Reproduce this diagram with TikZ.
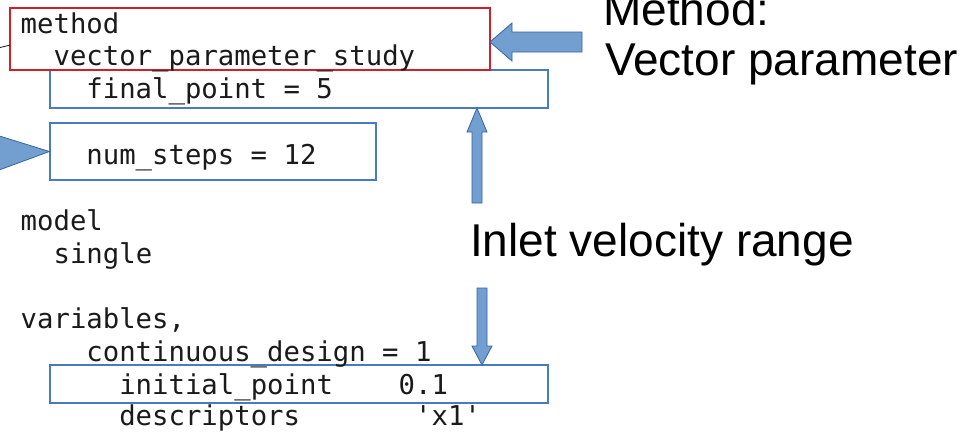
\documentclass[tikz,border=0pt]{standalone}
\usepackage{fontspec}
\setmainfont{Liberation Sans}
\setmonofont{DejaVu Sans Mono}
\definecolor{arrowfill}{HTML}{729FCF}
\definecolor{arrowline}{HTML}{3465A4}
\definecolor{boxblue}{HTML}{4A7BC0}
\definecolor{boxred}{HTML}{D0202A}
\definecolor{codetext}{HTML}{1A1A1A}
\tikzset{
  codeline/.style={anchor=base west, inner sep=0pt, text=codetext, font=\ttfamily\fontsize{27.3}{32.7}\selectfont},
  bluebox/.style={draw=boxblue, line width=1.1pt, rectangle, inner sep=0pt},
  redbox/.style={draw=boxred, line width=1.2pt, rectangle, inner sep=0pt},
  blockarrow/.style={fill=arrowfill, draw=arrowline, line width=0.8pt, line join=miter},
  labeltext/.style={anchor=base west, inner sep=0pt, font=\fontsize{46}{50}\selectfont},
}
\begin{document}
\begin{tikzpicture}[x=1pt,y=-1pt]
\clip (0,0) rectangle (978,432);
\fill[white] (0,0) rectangle (978,432);
% boxes
\node[bluebox, minimum width=498pt, minimum height=38pt] (fbox) at (299,89) {};
\node[bluebox, minimum width=326pt, minimum height=57pt] (nbox) at (213,151.5) {};
\node[bluebox, minimum width=498pt, minimum height=38pt] (ibox) at (299,384) {};
\node[redbox, minimum width=480pt, minimum height=62pt] (mbox) at (250,39) {};
% code text
\node[codeline] (l1) at (20.5,33) {method};
\node[codeline] (l2) at (53.4,65.5) {vector\_parameter\_study};
\node[codeline] (l3) at (86.2,98.5) {final\_point = 5};
\node[codeline] (l4) at (86.2,164.5) {num\_steps = 12};
\node[codeline] (l5) at (20.5,230.5) {model};
\node[codeline] (l6) at (53.4,263) {single};
\node[codeline] (l7) at (20.5,328) {variables,};
\node[codeline] (l8) at (86.2,361.5) {continuous\_design = 1};
\node[codeline] (l9) at (119.1,394) {initial\_point~~~~0.1};
\node[codeline] (l10) at (119.1,425.5) {descriptors~~~~~~~'x1'};
% labels
\node[labeltext] (mlabel1) at (603,25) {Method:};
\node[labeltext] (mlabel2) at (605,75) {Vector parameter};
\node[labeltext] (ilabel) at (470,256) {Inlet velocity range};
% block arrows
\draw[blockarrow] (490,42) -- (512,23) -- (512,32) -- (582,32) -- (582,52) -- (512,52) -- (512,61) -- cycle;
\draw[blockarrow] (477,108) -- (487,132) -- (482,132) -- (482,203) -- (472,203) -- (472,132) -- (467,132) -- cycle;
\draw[blockarrow] (482,365) -- (492,346) -- (487,346) -- (487,288) -- (477,288) -- (477,346) -- (472,346) -- cycle;
\draw[blockarrow] (nbox.west) -- (-20,130) -- (-20,177) -- cycle;
% thin connector entering the method box
\coordinate (cin) at (-5,48.8);
\coordinate (cend) at (10,45);
\draw[black, line width=0.7pt] (cin) -- (cend);
\end{tikzpicture}
\end{document}
